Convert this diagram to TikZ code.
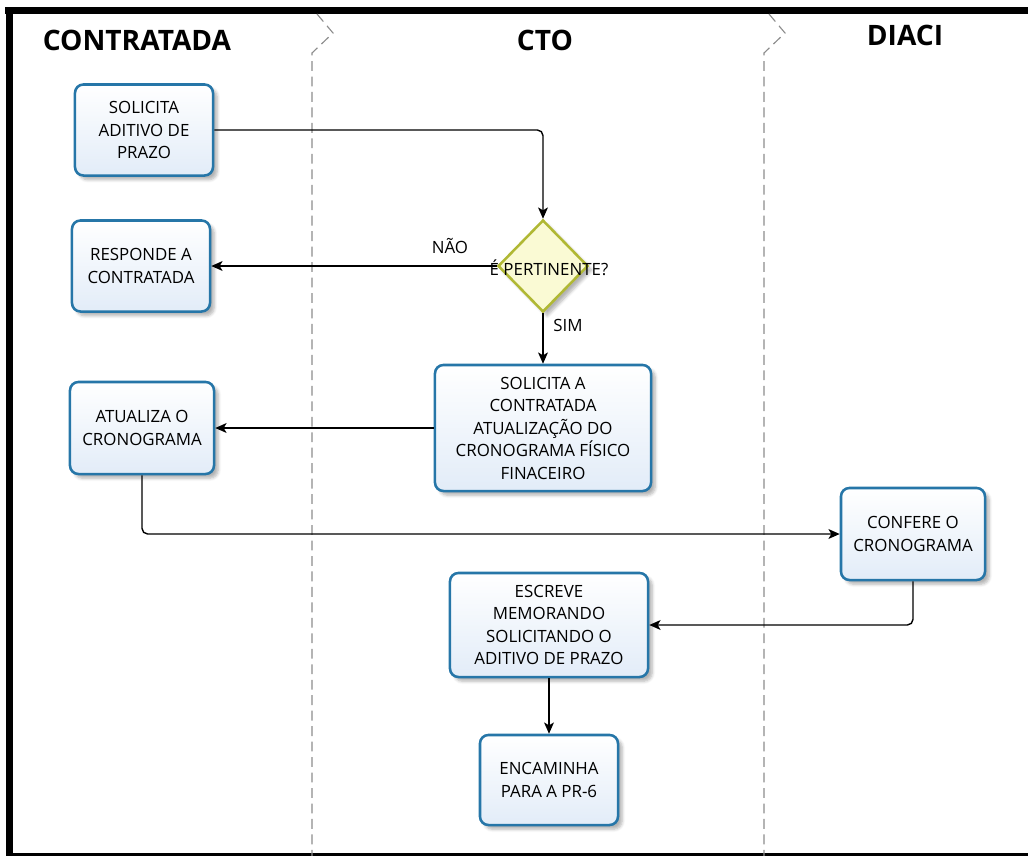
\documentclass[tikz,border=0pt]{standalone}
\usepackage{fontspec}
\setmainfont{Open Sans}
\usepackage{tikz}
\usetikzlibrary{shapes.geometric, arrows.meta, shadows.blur, calc, positioning}
\definecolor{boxline}{RGB}{38,118,168}
\definecolor{boxfill}{RGB}{226,236,248}
\definecolor{decline}{RGB}{176,184,52}
\definecolor{decfill}{RGB}{250,250,212}
\definecolor{laneline}{RGB}{140,140,140}

\begin{document}
\begin{tikzpicture}[x=0.025cm, y=-0.025cm]

% Stile
\tikzset{
  box/.style={rectangle, rounded corners=6pt, draw=boxline, line width=1.8pt, top color=white, bottom color=boxfill, align=center, font=\fontsize{12}{16}\selectfont, inner sep=2pt, blur shadow={shadow xshift=3pt, shadow yshift=-3pt, shadow blur steps=6, shadow opacity=30}},
  decision/.style={diamond, draw=decline, line width=1.8pt, fill=decfill, minimum width=2.25cm, minimum height=2.3cm, inner sep=0pt, blur shadow={shadow xshift=3pt, shadow yshift=-3pt, shadow blur steps=6, shadow opacity=30}},
  header/.style={font=\fontsize{20}{24}\selectfont\bfseries},
  tag/.style={font=\fontsize{12}{14}\selectfont},
  lane/.style={draw=laneline, line width=0.8pt, dash pattern=on 7pt off 4pt},
  arrow/.style={-{Stealth[length=8pt, width=7pt, inset=2pt]}, line width=1pt, rounded corners=4pt}
}

\useasboundingbox (0,0) rectangle (1028,856);

% --- Rahmen ---
\draw[line width=5pt] (5,10.5) -- (1028,10.5);
\draw[line width=4.3pt] (9.5,8) -- (9.5,856);
\draw[line width=2pt] (8,854.5) -- (1028,854.5);

% --- Bahnen ---
\draw[lane] (317,14) -- (333,33) -- (312,53) -- (312,856);
\draw[lane] (769,14) -- (785,33) -- (764,53) -- (764,856);

\node[header] (contratada) at (137,40) {CONTRATADA};
\node[header] (cto) at (545,40) {CTO};
\node[header] (diaci) at (905,35) {DIACI};

% --- Knoten ---
\node[box, minimum width=3.45cm, minimum height=2.275cm] (solicita) at (144,130) {SOLICITA\\ADITIVO DE\\PRAZO};
\node[box, minimum width=3.45cm, minimum height=2.275cm] (responde) at (141,266) {RESPONDE A\\CONTRATADA};
\node[decision] (pertinente) at (543,266) {};
\node[tag] (pertinentetxt) at (549,268) {É PERTINENTE?};
\node[box, minimum width=5.4cm, minimum height=3.15cm] (solicitaatual) at (543,428) {SOLICITA A\\CONTRATADA\\ATUALIZAÇÃO DO\\CRONOGRAMA FÍSICO\\FINACEIRO};
\node[box, minimum width=3.6cm, minimum height=2.3cm] (atualiza) at (142,428) {ATUALIZA O\\CRONOGRAMA};
\node[box, minimum width=3.6cm, minimum height=2.3cm] (confere) at (913,534) {CONFERE O\\CRONOGRAMA};
\node[box, minimum width=4.95cm, minimum height=2.6cm] (escreve) at (549,625) {ESCREVE\\MEMORANDO\\SOLICITANDO O\\ADITIVO DE PRAZO};
\node[box, minimum width=3.45cm, minimum height=2.25cm] (encaminha) at (549,780) {ENCAMINHA\\PARA A PR-6};

\node[tag] (nao) at (450,246) {NÃO};
\node[tag] (sim) at (568,325) {SIM};

% --- Pfeile ---
\draw[arrow] (solicita.east) -| (pertinente.north);
\draw[arrow] (pertinente.west) -- (responde.east);
\draw[arrow] (pertinente.south) -- (solicitaatual.north);
\draw[arrow] (solicitaatual.west) -- (atualiza.east);
\draw[arrow] (atualiza.south) |- (confere.west);
\draw[arrow] (confere.south) |- (escreve.east);
\draw[arrow] (escreve.south) -- (encaminha.north);

\end{tikzpicture}
\end{document}
